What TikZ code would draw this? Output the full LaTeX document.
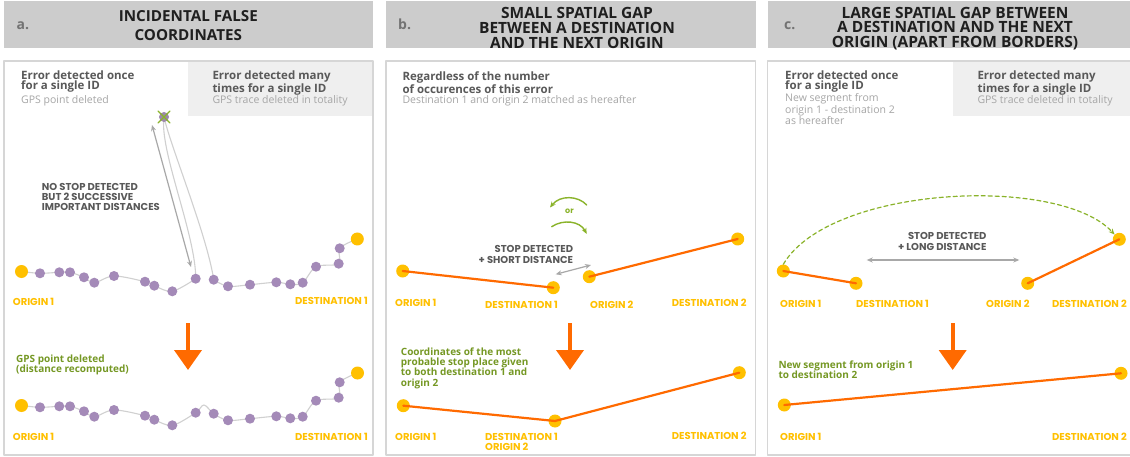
\documentclass[tikz,border=0pt]{standalone}
\usepackage{fontspec}
\setmainfont{Open Sans}
\newfontfamily\geofont{Poppins}
\usetikzlibrary{arrows.meta,backgrounds}
\definecolor{hdrgray}{HTML}{CCCCCC}
\definecolor{boxline}{HTML}{D6D6D6}
\definecolor{boxgray}{HTML}{EFEFEF}
\definecolor{txtdark}{HTML}{595959}
\definecolor{txtlight}{HTML}{A6A6A6}
\definecolor{stopyel}{HTML}{FFC000}
\definecolor{gpslila}{HTML}{A48AB8}
\definecolor{segorange}{HTML}{FF6A00}
\definecolor{okgreen}{HTML}{8AB32A}
\definecolor{tracegray}{HTML}{D0D0D0}
\definecolor{arrgray}{HTML}{A8A8A8}
\begin{document}
\begin{tikzpicture}[x=1pt,y=-1pt,line cap=round,line join=round,>={Stealth[length=6pt,width=5pt]},
  ptstop/.style={circle,fill=stopyel,inner sep=0pt,minimum size=13pt},
  ptgps/.style={circle,fill=gpslila,inner sep=0pt,minimum size=10pt},
  trace/.style={draw=tracegray,line width=1.1pt},
  seg/.style={draw=segorange,line width=2.2pt},
  bigarr/.style={draw=segorange,line width=4pt,line cap=butt,-{Triangle[width=27pt,length=20pt]}},
  grayarr/.style={draw=arrgray,line width=1.2pt,<->},
  greenarr/.style={draw=okgreen,line width=1.4pt,->},
  titletxt/.style={font=\bfseries\fontsize{15.5}{15}\selectfont,text=black!88,align=center,inner sep=0pt,anchor=north},
  lettertxt/.style={font=\bfseries\fontsize{14}{14}\selectfont,text=black!55,anchor=base west,inner sep=0pt},
  casetxt/.style={font=\bfseries\fontsize{11.5}{10}\selectfont,text=txtdark,align=left,anchor=north west,inner sep=0pt},
  subtxt/.style={font=\fontsize{10.5}{9.5}\selectfont,text=txtlight,align=left,anchor=base west,inner sep=0pt},
  notetxt/.style={font=\geofont\bfseries\fontsize{10}{10}\selectfont,text=txtdark,inner sep=0pt},
  greentxt/.style={font=\bfseries\fontsize{10}{10}\selectfont,text=okgreen!85!black,align=left,anchor=north west,inner sep=0pt},
  labtxt/.style={font=\geofont\bfseries\fontsize{10}{10}\selectfont,text=stopyel,inner sep=0pt,anchor=base west}]
\useasboundingbox (0,0) rectangle (1130,457);
\begin{scope}[on background layer]
\fill[white] (0,0) rectangle (1130,457);
\end{scope}
% headers
\fill[hdrgray] (3.5,1.5) rectangle (373,48.5);
\fill[hdrgray] (386,1.5) rectangle (756,48.5);
\fill[hdrgray] (767.5,1.5) rectangle (1131,48.5);
\node[lettertxt] (la) at (16.5,29.5) {a.};
\node[lettertxt] (lb) at (398,29.5) {b.};
\node[lettertxt] (lc) at (784,29.5) {c.};
\node[titletxt,font=\bfseries\fontsize{15.2}{18.3}\selectfont] (ta) at (188.3,10.5) {INCIDENTAL FALSE\\COORDINATES};
\node[titletxt] (tb) at (577,6.7) {SMALL SPATIAL GAP\\BETWEEN A DESTINATION\\AND THE NEXT ORIGIN};
\node[titletxt,font=\bfseries\fontsize{15.5}{14.5}\selectfont] (tc) at (955,6.7) {LARGE SPATIAL GAP BETWEEN\\A DESTINATION AND THE NEXT\\ORIGIN (APART FROM BORDERS)};
% panels
\fill[boxgray] (188,61) rectangle (373,116.5);
\fill[boxgray] (952.5,61) rectangle (1131,116.5);
\draw[boxline,line width=1.5pt] (4,61) rectangle (373,455);
\draw[boxline,line width=1.5pt] (386,61) rectangle (755.5,455);
\draw[boxline,line width=1.5pt] (767.5,61) rectangle (1135,455);
\node[casetxt] (ha1) at (21,71) {Error detected once\\for a single ID};
\node[subtxt] (sa1) at (21,104) {GPS point deleted};
\node[casetxt] (ha2) at (212.3,71) {Error detected many\\times for a single ID};
\node[subtxt] (sa2) at (212.3,104) {GPS trace deleted in totality};
\node[casetxt] (hb1) at (402.3,71.5) {Regardless of the number\\of occurences of this error};
\node[subtxt] (sb1) at (402.3,104) {Destination 1 and origin 2 matched as hereafter};
\node[casetxt] (hc1) at (785,71) {Error detected once\\for a single ID};
\node[subtxt,anchor=north west,align=left] (sc1) at (785,93.5) {New segment from\\origin 1 - destination 2\\as hereafter};
\node[casetxt] (hc2) at (977.3,71) {Error detected many\\times for a single ID};
\node[subtxt] (sc2) at (977.3,104) {GPS trace deleted in totality};

% a. incidental false coordinates
\foreach \px/\py [count=\i] in {40/273.3,59.3/272.3,70/272.3,84/277.3,94.3/282.7,114/276,145/281.7,
  154.3/285.7,172.3/291.3,195.7/278.7,213.7/279.7,228/286.3,250/284.7,276.3/282.3,290.3/284.3,
  302.7/282.7,316/266.7,338.7/263.7,339.7/248.3}{
  \coordinate (ta\i) at (\px,\py);
  \coordinate (ba\i) at (\px,\py+134);
}
\coordinate (tao) at (21.5,271.5);
\coordinate (tad) at (357.3,239);
\coordinate (bao) at (21.5,405.5);
\coordinate (bad) at (357.5,373);
\coordinate (del) at (164,117);
\begin{scope}[on background layer]
\draw[trace] plot[smooth,tension=0.55] coordinates {(tao) (ta1) (ta2) (ta3) (ta4) (ta5) (ta6) (ta7) (ta8) (ta9) (ta10)};
\draw[trace] (ta10) .. controls (196,235) and (159,150) .. (del) .. controls (170,145) and (207,235) .. (ta11);
\draw[trace] plot[smooth,tension=0.55] coordinates {(ta11) (ta12) (ta13) (ta14) (ta15) (ta16) (ta17) (ta18) (ta19) (tad)};
\draw[trace] plot[smooth,tension=0.55] coordinates {(bao) (ba1) (ba2) (ba3) (ba4) (ba5) (ba6) (ba7) (ba8) (ba9) (ba10) (204,405) (ba11) (ba12) (ba13) (ba14) (ba15) (ba16) (ba17) (ba18) (ba19) (bad)};
\end{scope}
\foreach \i in {1,...,19}{
  \node[ptgps] (pta\i) at (ta\i) {};
  \node[ptgps] (pba\i) at (ba\i) {};
}
\node[ptstop] (ao1) at (tao) {};
\node[ptstop] (ad1) at (tad) {};
\node[ptstop] (aao1) at (bao) {};
\node[ptstop] (aad1) at (bad) {};
\node[ptgps,fill=gpslila!80!gray] (pdel) at (del) {};
\draw[okgreen,line width=1.2pt] (158,111) -- (170,123) (170,111) -- (158,123);
\coordinate (na1) at (191,267);
\coordinate (na2) at (152,125);
\draw[grayarr] (na1) -- (na2);
\node[notetxt,align=left,anchor=north west] (nsa) at (41.7,182.7) {NO STOP DETECTED\\BUT 2 SUCCESSIVE\\IMPORTANT DISTANCES};
\node[labtxt] (lao1) at (12.7,305.7) {ORIGIN 1};
\node[labtxt,anchor=base east] (lad1) at (368,304.5) {DESTINATION 1};
\coordinate (aa1) at (188,323);
\coordinate (aa2) at (188,370);
\draw[bigarr] (aa1) -- (aa2);
\node[greentxt] (ga) at (16,354.3) {GPS point deleted\\(distance recomputed)};
\node[labtxt] (laao1) at (12.7,440.5) {ORIGIN 1};
\node[labtxt,anchor=base east] (laad1) at (368,440) {DESTINATION 1};

% b. small spatial gap
\node[ptstop] (bo1) at (402.7,271) {};
\node[ptstop] (bd1) at (553.3,287.7) {};
\node[ptstop] (bo2) at (589.3,276.7) {};
\node[ptstop] (bd2) at (737.7,239) {};
\draw[seg] (bo1.center) -- (bd1.center);
\draw[seg] (bo2.center) -- (bd2.center);
\coordinate (gu1) at (586.7,205);
\coordinate (gu2) at (550,207.5);
\coordinate (gl1) at (551.7,226.7);
\coordinate (gl2) at (586.7,234);
\draw[greenarr] (gu1) .. controls (578,195.5) and (560,195) .. (gu2);
\draw[greenarr] (gl1) .. controls (563,219) and (580,221) .. (gl2);
\node[notetxt,text=okgreen,font=\geofont\bfseries\fontsize{8}{8}\selectfont] (gor) at (569.5,211.5) {or};
\node[notetxt,align=right,anchor=north east,font=\geofont\bfseries\fontsize{10}{10.7}\selectfont] (nsb) at (573.3,245) {STOP DETECTED\\+ SHORT DISTANCE};
\coordinate (nb1) at (555.7,274.3);
\coordinate (nb2) at (591,265);
\draw[grayarr] (nb1) -- (nb2);
\node[labtxt] (lbo1) at (395,306.7) {ORIGIN 1};
\node[labtxt] (lbd1) at (485,308.3) {DESTINATION 1};
\node[labtxt] (lbo2) at (590,308.3) {ORIGIN 2};
\node[labtxt,anchor=base east] (lbd2) at (746.7,306.7) {DESTINATION 2};
\coordinate (ba1x) at (570,323);
\coordinate (ba2x) at (570,370);
\draw[bigarr] (ba1x) -- (ba2x);
\node[greentxt,font=\bfseries\fontsize{10}{10.3}\selectfont] (gb) at (400.7,347.3) {Coordinates of the most\\probable stop place given\\to both destination 1 and\\origin 2};
\node[ptstop] (bbo1) at (403.3,405.7) {};
\node[ptstop] (bbm) at (555,421) {};
\node[ptstop] (bbd2) at (739.3,372.7) {};
\draw[seg] (bbo1.center) -- (bbm.center) -- (bbd2.center);
\node[labtxt] (lbbo1) at (395,440.7) {ORIGIN 1};
\node[labtxt,anchor=north west,align=left] (lbbm) at (485,433.3) {DESTINATION 1\\ORIGIN 2};
\node[labtxt,anchor=base east] (lbbd2) at (746.7,439.3) {DESTINATION 2};

% c. large spatial gap
\node[ptstop] (co1) at (783.3,271) {};
\node[ptstop] (cd1) at (856,283.3) {};
\node[ptstop] (co2) at (1027.7,283.3) {};
\node[ptstop] (cd2) at (1119.3,239.3) {};
\draw[seg] (co1.center) -- (cd1.center);
\draw[seg] (co2.center) -- (cd2.center);
\draw[greenarr,dash pattern=on 4pt off 3pt,line width=1.2pt] (co1.north) .. controls (830,185) and (1060,175) .. (cd2.north west);
\node[notetxt,align=right,anchor=north east,font=\geofont\bfseries\fontsize{10}{11}\selectfont] (nsc) at (986.7,231.7) {STOP DETECTED\\+ LONG DISTANCE};
\coordinate (nc1) at (866.7,260);
\coordinate (nc2) at (1019.3,260);
\draw[grayarr] (nc1) -- (nc2);
\node[labtxt] (lco1) at (780,307.3) {ORIGIN 1};
\node[labtxt] (lcd1) at (856,307.3) {DESTINATION 1};
\node[labtxt] (lco2) at (986,307.3) {ORIGIN 2};
\node[labtxt,anchor=base east] (lcd2) at (1127,307.3) {DESTINATION 2};
\coordinate (ca1) at (952.7,323);
\coordinate (ca2) at (952.7,370);
\draw[bigarr] (ca1) -- (ca2);
\node[greentxt] (gc) at (778.3,361) {New segment from origin 1\\to destination 2};
\node[ptstop] (cco1) at (784.3,405) {};
\node[ptstop] (ccd2) at (1121,373.3) {};
\draw[seg] (cco1.center) -- (ccd2.center);
\node[labtxt] (lcco1) at (780,440) {ORIGIN 1};
\node[labtxt,anchor=base east] (lccd2) at (1127,440) {DESTINATION 2};
\end{tikzpicture}
\end{document}
